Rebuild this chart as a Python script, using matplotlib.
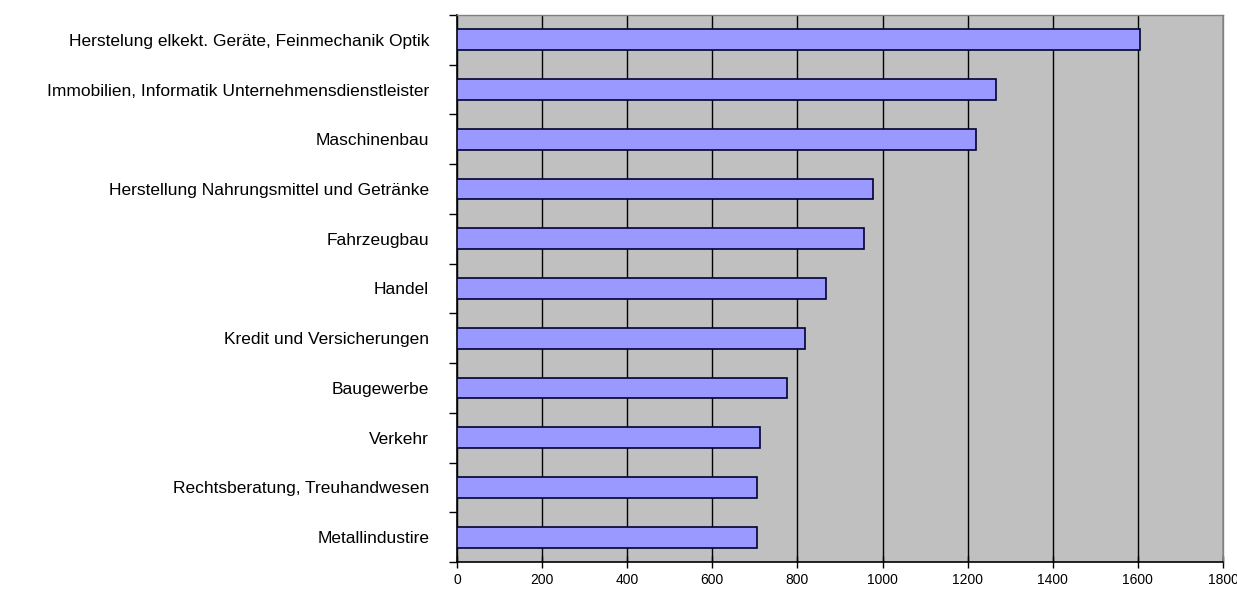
import numpy as np
from matplotlib import pyplot as plt

categories = [
    'Herstelung elkekt. Geräte, Feinmechanik Optik',
    'Immobilien, Informatik Unternehmensdienstleister',
    'Maschinenbau',
    'Herstellung Nahrungsmittel und Getränke',
    'Fahrzeugbau',
    'Handel',
    'Kredit und Versicherungen',
    'Baugewerbe',
    'Verkehr',
    'Rechtsberatung, Treuhandwesen',
    'Metallindustire',
]
values = [1605, 1267, 1219, 977, 956, 866, 818, 775, 712, 705, 705]
xticks = [0, 200, 400, 600, 800, 1000, 1200, 1400, 1600, 1800]

plt.rcParams['font.family'] = ['Liberation Sans', 'DejaVu Sans']

fig = plt.figure(figsize=(12.37, 5.95), dpi=100)
ax = fig.add_axes([457/1237, 1-562/595, (1223-457)/1237, (562-15)/595])
ax.set_facecolor('#c0c0c0')

y = np.arange(len(categories))
ax.barh(y, values, height=0.42, color='#9999ff', edgecolor='#000033', linewidth=1.2, zorder=3)

ax.set_xlim(0, 1800)
ax.set_ylim(len(categories)-0.5, -0.5)
ax.set_xticks(xticks)
ax.set_xticklabels([str(t) for t in xticks], fontsize=10)
ax.xaxis.grid(True, color='black', linewidth=1.0, zorder=1)
ax.set_axisbelow(True)

# category separators as major ticks, labels on minor ticks
ax.set_yticks(np.arange(len(categories)+1)-0.5)
ax.set_yticklabels([])
ax.set_yticks(y, minor=True)
ax.set_yticklabels(categories, minor=True, fontsize=12.5)
ax.tick_params(axis='y', which='major', direction='out', length=6, width=1, color='black')
ax.tick_params(axis='y', which='minor', length=0, pad=20)
ax.tick_params(axis='x', direction='inout', length=8, width=1, pad=4)

for s in ['top', 'right']:
    ax.spines[s].set_color('#808080')
    ax.spines[s].set_linewidth(1)
for s in ['left', 'bottom']:
    ax.spines[s].set_color('black')
    ax.spines[s].set_linewidth(1.2)

plt.savefig('out.png', dpi=100)
